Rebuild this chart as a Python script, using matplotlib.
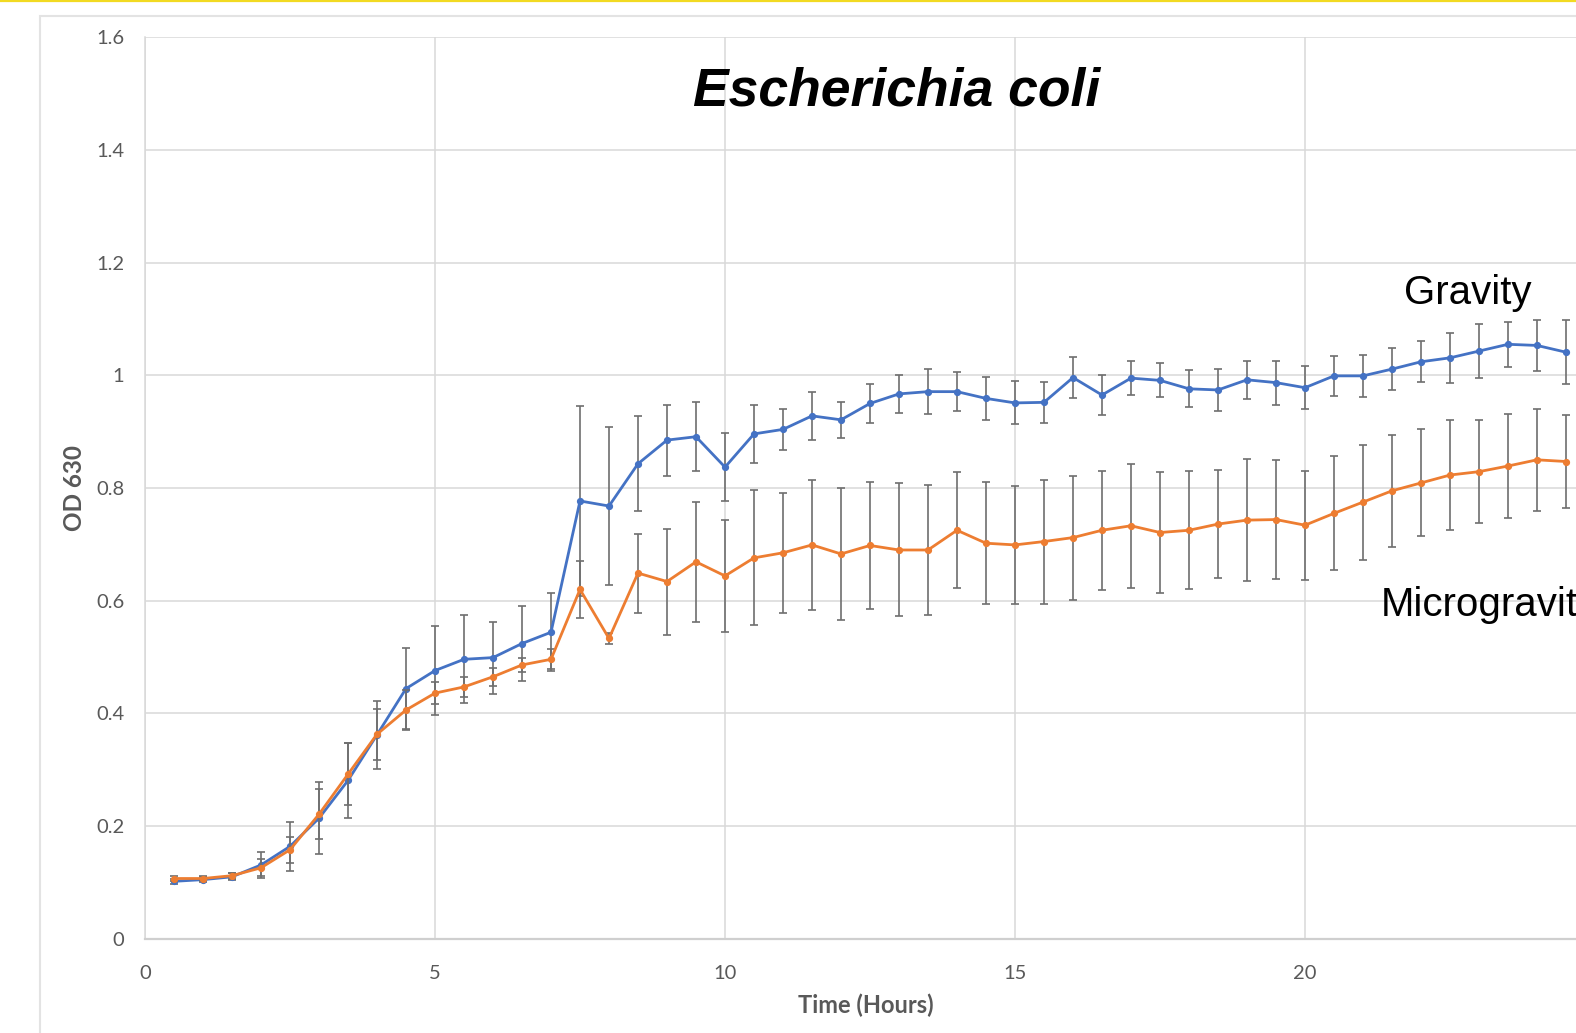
import matplotlib
matplotlib.use("Agg")
import matplotlib.pyplot as plt
from matplotlib.lines import Line2D
from matplotlib.patches import Rectangle


TEXT_FONT = "Lato"
ARIAL = "Liberation Sans"

INK = "#595959"
GRID = "#D9D9D9"
BLUE = "#4472C4"
ORANGE = "#ED7D31"
ERR = "#6E6E6E"

time_h = [0.5, 1.0, 1.5, 2.0, 2.5, 3.0, 3.5, 4.0, 4.5, 5.0,
          5.5, 6.0, 6.5, 7.0, 7.5, 8.0, 8.5, 9.0, 9.5, 10.0,
          10.5, 11.0, 11.5, 12.0, 12.5, 13.0, 13.5, 14.0, 14.5, 15.0,
          15.5, 16.0, 16.5, 17.0, 17.5, 18.0, 18.5, 19.0, 19.5, 20.0,
          20.5, 21.0, 21.5, 22.0, 22.5, 23.0, 23.5, 24.0, 24.5]

gravity = [0.102, 0.105, 0.110, 0.131, 0.164, 0.214, 0.281, 0.362, 0.444, 0.476,
           0.496, 0.499, 0.524, 0.544, 0.777, 0.768, 0.843, 0.885, 0.891, 0.837,
           0.896, 0.904, 0.928, 0.921, 0.950, 0.967, 0.971, 0.971, 0.959, 0.951,
           0.952, 0.996, 0.965, 0.995, 0.991, 0.976, 0.974, 0.992, 0.987, 0.978,
           0.999, 0.999, 1.011, 1.024, 1.031, 1.043, 1.055, 1.053, 1.041]

gravity_err = [0.004, 0.004, 0.006, 0.023, 0.044, 0.064, 0.066, 0.060, 0.072, 0.079,
               0.078, 0.064, 0.066, 0.069, 0.169, 0.140, 0.084, 0.063, 0.061, 0.060,
               0.052, 0.036, 0.043, 0.032, 0.035, 0.034, 0.040, 0.034, 0.038, 0.038,
               0.036, 0.037, 0.036, 0.030, 0.030, 0.033, 0.037, 0.034, 0.039, 0.038,
               0.036, 0.037, 0.037, 0.036, 0.044, 0.048, 0.040, 0.045, 0.057]

micrograv = [0.107, 0.107, 0.112, 0.126, 0.158, 0.221, 0.292, 0.363, 0.406, 0.436,
             0.447, 0.465, 0.486, 0.496, 0.620, 0.533, 0.649, 0.634, 0.669, 0.644,
             0.676, 0.685, 0.699, 0.683, 0.698, 0.690, 0.690, 0.725, 0.702, 0.699,
             0.705, 0.712, 0.725, 0.733, 0.721, 0.725, 0.736, 0.743, 0.744, 0.734,
             0.755, 0.775, 0.795, 0.809, 0.823, 0.829, 0.839, 0.850, 0.847]

micrograv_err = [0.004, 0.004, 0.005, 0.015, 0.023, 0.044, 0.055, 0.045, 0.035, 0.020,
                 0.018, 0.016, 0.012, 0.018, 0.050, 0.010, 0.070, 0.094, 0.106, 0.100,
                 0.120, 0.107, 0.116, 0.117, 0.113, 0.118, 0.115, 0.103, 0.108, 0.104,
                 0.110, 0.110, 0.106, 0.110, 0.107, 0.105, 0.096, 0.108, 0.106, 0.097,
                 0.101, 0.102, 0.099, 0.095, 0.097, 0.091, 0.093, 0.091, 0.083]

x_ticks = [0, 5, 10, 15, 20]
y_ticks = [0, 0.2, 0.4, 0.6, 0.8, 1.0, 1.2, 1.4, 1.6]
y_tick_labels = ["0", "0.2", "0.4", "0.6", "0.8", "1", "1.2", "1.4", "1.6"]

W, H = 1576, 1033


def main():
    fig = plt.figure(figsize=(W / 100, H / 100), dpi=100)
    fig.patch.set_facecolor("white")

    # plot area in pixels: x=0 at 145, 58 px per hour; y=0 at 938.8, 1.6 at 37.2
    left_px, bottom_px, top_px = 145, 938.8, 37.2
    ax = fig.add_axes([left_px / W, 1 - bottom_px / H, 1 - left_px / W, (bottom_px - top_px) / H])
    ax.set_xlim(0, (W - left_px) / 58.0)
    ax.set_ylim(0, 1.6)

    # chart area border and the yellow strip at the top of the screenshot
    fig.add_artist(Rectangle((40 / W, -0.1), 1.2, 1 - 16 / H + 0.1, transform=fig.transFigure,
                             fill=False, edgecolor="#E3E3E3", linewidth=1.5, zorder=0))
    fig.add_artist(Line2D([0, 1], [1 - 1 / H, 1 - 1 / H], transform=fig.transFigure,
                          color="#F2DA22", linewidth=1.6))

    err_kw = dict(ecolor=ERR, elinewidth=1.2, capsize=3.2, capthick=1.2)
    ax.errorbar(time_h, gravity, yerr=gravity_err, color=BLUE, linewidth=2.0,
                marker="o", markersize=4.2, zorder=3, **err_kw)
    ax.errorbar(time_h, micrograv, yerr=micrograv_err, color=ORANGE, linewidth=2.0,
                marker="o", markersize=4.2, zorder=4, **err_kw)

    ax.set_xticks(x_ticks)
    ax.set_yticks(y_ticks)
    ax.set_yticklabels(y_tick_labels)
    ax.grid(True, color=GRID, linewidth=1.1)
    ax.set_axisbelow(True)
    ax.tick_params(axis="both", length=0, colors=INK, labelsize=14.5)
    ax.tick_params(axis="x", pad=19)
    ax.tick_params(axis="y", pad=15)
    for lab in ax.get_xticklabels() + ax.get_yticklabels():
        lab.set_fontfamily(TEXT_FONT)

    for side in ["top", "right"]:
        ax.spines[side].set_visible(False)
    ax.spines["left"].set_color(GRID)
    ax.spines["left"].set_linewidth(1.1)
    ax.spines["bottom"].set_color("#CFCFCF")
    ax.spines["bottom"].set_linewidth(1.6)

    ax.set_xlabel("Time (Hours)", fontsize=17, fontweight="bold", color=INK, fontfamily=TEXT_FONT)
    ax.xaxis.set_label_coords((866 - left_px) / (W - left_px), (bottom_px - 1005) / (bottom_px - top_px))
    ax.xaxis.label.set_va("center")
    ax.set_ylabel("OD 630", fontsize=17.5, fontweight="bold", color=INK, fontfamily=TEXT_FONT)
    ax.yaxis.set_label_coords((74.5 - left_px) / (W - left_px), (bottom_px - 488) / (bottom_px - top_px))
    ax.yaxis.label.set_va("center")

    fig.text(897 / W, 1 - 105 / H, "Escherichia coli", fontsize=38.5, fontweight="bold",
             fontstyle="italic", fontfamily=ARIAL, color="black", ha="center", va="baseline")
    fig.text(1468 / W, 1 - 293 / H, "Gravity", fontsize=29, fontfamily=ARIAL,
             color="black", ha="center", va="center")
    # the reference screenshot is cropped through this label, so it runs off the edge
    fig.text(1381 / W, 1 - 616.5 / H, "Microgravity", fontsize=29, fontfamily=ARIAL,
             color="black", ha="left", va="baseline")

    fig.savefig("out.png", dpi=100)
    plt.close(fig)


if __name__ == "__main__":
    main()
